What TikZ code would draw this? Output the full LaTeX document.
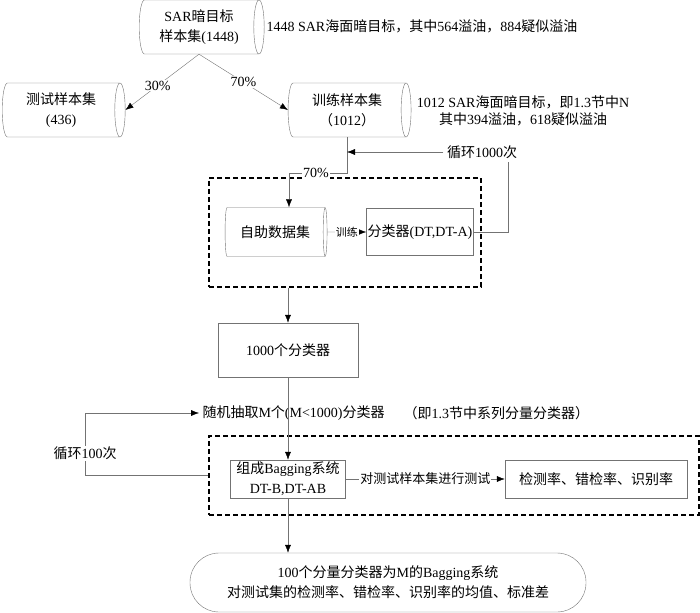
\documentclass[tikz,border=0pt]{standalone}
\usepackage{fontspec}
\setmainfont{Liberation Serif}
\newfontfamily\cjk{Noto Sans CJK SC}
\newcommand\zh[1]{{\cjk #1}}
\usetikzlibrary{shapes.geometric,arrows.meta}

\begin{document}
\begin{tikzpicture}[x=1pt,y=-1pt,
    every node/.style={font=\fontsize{14}{20}\selectfont, align=center},
    line/.style={draw=gray!90!black},
    arr/.style={line, -{Latex[length=8pt,width=6pt,color=black]}},
    drum/.style={cylinder, draw=gray!90!black, aspect=0.3, inner sep=0pt},
    box/.style={rectangle, draw=gray!90!black, inner sep=0pt},
    dashbox/.style={rectangle, draw=black, line width=1.1pt, dash pattern=on 5pt off 3pt, inner sep=0pt},
    lbl/.style={fill=white, inner sep=1pt}]
\useasboundingbox (0,0) rectangle (700,612);

\node[drum, minimum width=54, minimum height=125] (all) at (199,27) {SAR\zh{暗目标}\\\zh{样本集}(1448)};
\node[anchor=west] (note1) at (263,26) {1448 SAR\zh{海面暗目标，其中}564\zh{溢油，}884\zh{疑似溢油}};
\node[drum, minimum width=54, minimum height=123] (test) at (61,110) {\zh{测试样本集}\\(436)};
\node[drum, minimum width=54, minimum height=123] (train) at (347,110) {\zh{训练样本集}\\\zh{（}1012\zh{）}};
\node[font=\fontsize{14}{17}\selectfont] (note2) at (523,111) {1012 SAR\zh{海面暗目标，即}1.3\zh{节中}N\\\zh{其中}394\zh{溢油，}618\zh{疑似溢油}};
\node (lp1) at (482,152) {\zh{循环}1000\zh{次}};

\node[dashbox, minimum width=272, minimum height=109] (stage1) at (345,232.5) {};
\node[drum, minimum width=49, minimum height=102] (boot) at (275,232) {\zh{自助数据集}};
\node[box, minimum width=107, minimum height=47] (cls) at (420,232) {\zh{分类器}(DT,DT-A)};
\node[box, minimum width=140, minimum height=54] (k1000) at (288,350) {1000\zh{个分类器}};

\node[anchor=west] (pick) at (199,413) {\zh{随机抽取}M\zh{个}(M<1000)\zh{分类器}};
\node[anchor=west] (note3) at (400,413) {\zh{（即}1.3\zh{节中系列分量分类器）}};
\node[dashbox, minimum width=490, minimum height=79] (stage2) at (454,475.5) {};
\node[box, minimum width=115, minimum height=38] (bag) at (288,479) {\zh{组成}Bagging\zh{系统}\\DT-B,DT-AB};
\node[box, minimum width=182, minimum height=38] (rate) at (596,479) {\zh{检测率、错检率、识别率}};
\node[draw=gray!90!black, rounded corners=29, minimum width=396, minimum height=59, inner sep=0pt] (result) at (388,582.5)
    {100\zh{个分量分类器为}M\zh{的}Bagging\zh{系统}\\\zh{对测试集的检测率、错检率、识别率的均值、标准差}};

\coordinate (fork) at (289,173);
\coordinate (turn) at (85,413);
\draw[arr] (all.south) -- node[lbl, pos=.56] (p30) {30\%} (test.east);
\draw[arr] (all.south) -- node[lbl, pos=.5] (p70a) {70\%} (train.west);
\draw[arr] (train.south) |- (fork) -- (fork |- boot.north);
\node[lbl] (p70b) at (316,173) {70\%};
\draw[arr] (lp1.west) -- (lp1.west -| train.south);
\draw[line] (cls.east) -| ([xshift=26]lp1.south);
\draw[arr] (boot.east) -- node[lbl, font=\fontsize{11}{13}\selectfont] (train1) {\zh{训练}} (cls.west);
\draw[arr] (k1000.north |- stage1.south) -- (k1000.north);
\draw[arr] (k1000.south) -- (bag.north);
\draw[arr] (stage2.west) -| (turn) -- (pick.west);
\node[lbl] (lp2) at (85,453) {\zh{循环}100\zh{次}};
\draw[arr] (bag.east) -- node[lbl, font=\fontsize{13}{15}\selectfont] (runtest) {\zh{对测试样本集进行测试}} (rate.west);
\draw[arr] (bag.south) -- (bag.south |- result.north);
\end{tikzpicture}
\end{document}
